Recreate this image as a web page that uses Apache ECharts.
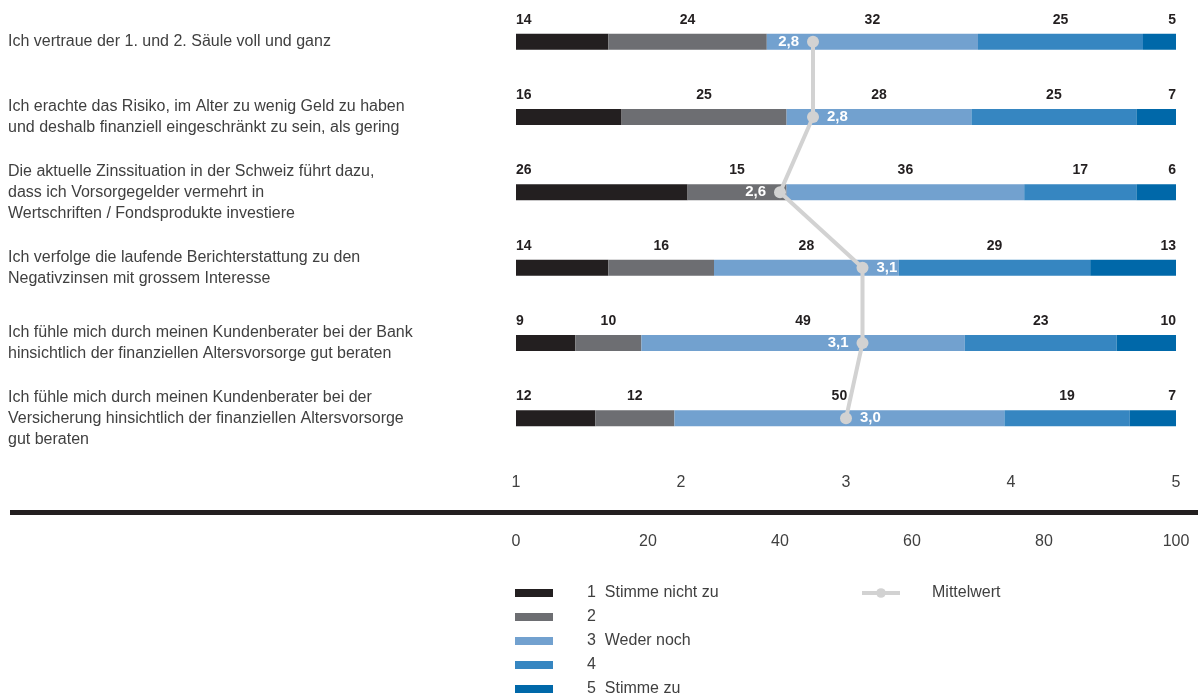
<!DOCTYPE html>
<html>
<head>
<meta charset="utf-8">
<script src="https://cdn.jsdelivr.net/npm/echarts@6/dist/echarts.min.js"></script>
<style>
html,body{margin:0;padding:0;background:#fff;}
#chart{width:1198px;height:695px;}
</style>
</head>
<body>
<div id="chart"></div>
<script>
const categories = [
  "Ich vertraue der 1. und 2. Säule voll und ganz",
  "Ich erachte das Risiko, im Alter zu wenig Geld zu haben\nund deshalb finanziell eingeschränkt zu sein, als gering",
  "Die aktuelle Zinssituation in der Schweiz führt dazu,\ndass ich Vorsorgegelder vermehrt in\nWertschriften / Fondsprodukte investiere",
  "Ich verfolge die laufende Berichterstattung zu den\nNegativzinsen mit grossem Interesse",
  "Ich fühle mich durch meinen Kundenberater bei der Bank\nhinsichtlich der finanziellen Altersvorsorge gut beraten",
  "Ich fühle mich durch meinen Kundenberater bei der\nVersicherung hinsichtlich der finanziellen Altersvorsorge\ngut beraten"
];
const seriesNames = ["1  Stimme nicht zu", "2", "3  Weder noch", "4", "5  Stimme zu"];
const s1 = [14, 16, 26, 14, 9, 12];
const s2 = [24, 25, 15, 16, 10, 12];
const s3 = [32, 28, 36, 28, 49, 50];
const s4 = [25, 25, 17, 29, 23, 19];
const s5 = [5, 7, 6, 13, 10, 7];
const means = [2.8, 2.8, 2.6, 3.1, 3.1, 3.0];
const meanName = "Mittelwert";
const pctTicks = [0, 20, 40, 60, 80, 100];
const scaleTicks = [1, 2, 3, 4, 5];

const colors = ['#231f20', '#6d6e72', '#72a1cf', '#3686c1', '#0068a9'];
const FONT = '"Liberation Sans", Arial, sans-serif';
const TEXT = '#404040';
const values = [s1, s2, s3, s4, s5];

const barSeries = values.map((arr, k) => {
  let labelPos;
  if (k === 0) labelPos = { position: [0, -7], align: 'left', verticalAlign: 'bottom' };
  else if (k === values.length - 1) labelPos = { position: ['100%', -7], align: 'right', verticalAlign: 'bottom' };
  else labelPos = { position: 'top', distance: 7 };
  return {
    name: seriesNames[k],
    type: 'bar',
    stack: 'total',
    barWidth: 16,
    xAxisIndex: 0,
    yAxisIndex: 0,
    itemStyle: { color: colors[k] },
    emphasis: { disabled: true },
    label: Object.assign({
      show: true,
      color: '#231f20',
      fontFamily: FONT,
      fontWeight: 'bold',
      fontSize: 14,
      formatter: p => String(p.value)
    }, labelPos),
    data: arr
  };
});

const meanSeries = {
  name: meanName,
  type: 'line',
  xAxisIndex: 1,
  yAxisIndex: 0,
  z: 10,
  symbol: 'circle',
  symbolSize: 12,
  lineStyle: { color: '#d2d2d2', width: 4 },
  itemStyle: { color: '#d2d2d2' },
  emphasis: { disabled: true },
  label: {
    show: true,
    color: '#ffffff',
    fontFamily: FONT,
    fontWeight: 'bold',
    fontSize: 15,
    distance: 8,
    formatter: p => p.value.toFixed(1).replace('.', ',')
  },
  data: means.map((v, i) => ({ value: v, label: { position: i % 2 === 0 ? 'left' : 'right' } }))
};

const chart = echarts.init(document.getElementById('chart'), null, { renderer: 'canvas' });
chart.setOption({
  animation: false,
  backgroundColor: '#ffffff',
  grid: { left: 516, right: 22, top: 4, height: 452, containLabel: false },
  yAxis: {
    type: 'category',
    data: categories,
    inverse: true,
    axisLine: { show: false },
    axisTick: { show: false },
    splitLine: { show: false },
    axisLabel: {
      align: 'left',
      margin: 508,
      color: TEXT,
      fontFamily: FONT,
      fontSize: 16,
      lineHeight: 21
    }
  },
  xAxis: [
    {
      type: 'value', min: pctTicks[0], max: pctTicks[pctTicks.length - 1], interval: 20,
      position: 'bottom', offset: 71,
      axisLine: { show: false }, axisTick: { show: false }, splitLine: { show: false },
      axisLabel: { margin: 7, color: TEXT, fontFamily: FONT, fontSize: 16 }
    },
    {
      type: 'value', min: scaleTicks[0], max: scaleTicks[scaleTicks.length - 1], interval: 1,
      position: 'bottom', offset: 13,
      axisLine: { show: false }, axisTick: { show: false }, splitLine: { show: false },
      axisLabel: { margin: 6, color: TEXT, fontFamily: FONT, fontSize: 16 }
    }
  ],
  legend: [
    {
      data: seriesNames,
      orient: 'vertical',
      left: 515, top: 585,
      width: 300, height: 140,
      padding: 0,
      icon: 'rect',
      itemWidth: 38, itemHeight: 8, itemGap: 8,
      selectedMode: false,
      textStyle: { color: TEXT, fontFamily: FONT, fontSize: 16, lineHeight: 16, padding: [0, 0, 0, 29] }
    },
    {
      data: [meanName],
      orient: 'vertical',
      left: 860, top: 585,
      padding: 0,
      itemWidth: 38, itemHeight: 12,
      selectedMode: false,
      lineStyle: { width: 4, color: '#d2d2d2' },
      textStyle: { color: TEXT, fontFamily: FONT, fontSize: 16, lineHeight: 16, padding: [0, 0, 0, 27] }
    }
  ],
  graphic: [
    { type: 'rect', left: 10, top: 510, shape: { width: 1188, height: 5 }, style: { fill: '#231f20' }, silent: true }
  ],
  series: barSeries.concat([meanSeries])
});
</script>
</body>
</html>
